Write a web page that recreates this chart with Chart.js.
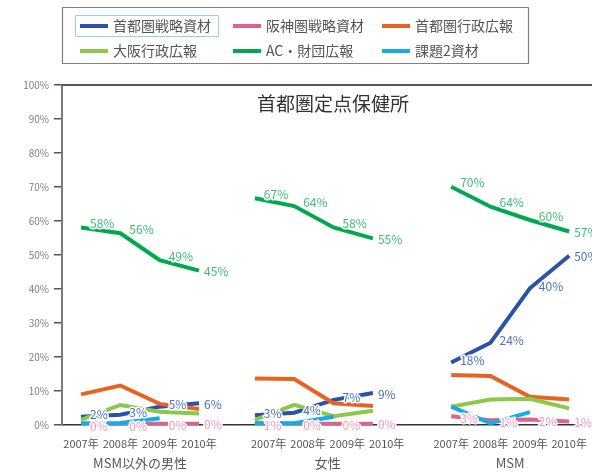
<!DOCTYPE html>
<html>
<head>
<meta charset="utf-8">
<script src="https://cdn.jsdelivr.net/npm/chart.js@4.4.1/dist/chart.umd.min.js"></script>
<style>
html,body{margin:0;padding:0;background:#fff;}
#wrap{width:592px;height:473px;position:relative;}
</style>
</head>
<body>
<div id="wrap"><canvas id="c"></canvas></div>
<script>
// ---- data ----
const years = ['2007年', '2008年', '2009年', '2010年'];
const groups = ['MSM以外の男性', '女性', 'MSM'];
const seriesNames = ['首都圏戦略資材', '阪神圏戦略資材', '首都圏行政広報', '大阪行政広報', 'AC・財団広報', '課題2資材'];
const chartTitle = '首都圏定点保健所';
const yTicks = [0, 10, 20, 30, 40, 50, 60, 70, 80, 90, 100];

// values per group: [MSM以外の男性, 女性, MSM], each 2007..2010 (%)
const shutoSenryaku   = [[2.4, 3.0, 5.4, 6.4], [2.9, 3.6, 7.4, 9.4], [18.4, 24.2, 40.2, 49.8]];
const hanshinSenryaku = [[0.3, 0.3, 0.4, 0.4], [0.6, 0.4, 0.4, 0.4], [2.6, 1.4, 1.6, 1.0]];
const shutoGyosei     = [[9.0, 11.6, 6.2, 4.7], [13.7, 13.5, 6.4, 5.6], [14.7, 14.4, 8.3, 7.5]];
const osakaGyosei     = [[1.5, 5.9, 3.9, 3.4], [1.5, 5.9, 2.6, 4.2], [5.4, 7.5, 7.7, 4.9]];
const acZaidan        = [[58.1, 56.4, 48.5, 45.4], [66.7, 64.4, 58.1, 54.9], [70.1, 64.2, 60.3, 56.9]];
const kadai2          = [[0.5, 0.6, 2.0, null], [0.5, 0.5, 2.4, null], [5.4, 0.5, 3.8, null]];

// ---- layout / style ----
const groupOffset = [0, 4.42, 9.41];
const labelShift = [0, 0.35, 0];
const FONT = '"Noto Sans CJK JP", "Noto Sans", sans-serif';
const styles = [
  {color: '#2a52a6', label: true, labelColor: '#4d6fc0', dy: -2},
  {color: '#e2618b', label: true, labelColor: '#f49ab8', dy: 2},
  {color: '#e8641e', label: false},
  {color: '#8cc84b', label: false},
  {color: '#00a84f', label: true, labelColor: '#3dbd74', dy: -4},
  {color: '#12ade8', label: false}
];
const allSeries = [shutoSenryaku, hanshinSenryaku, shutoGyosei, osakaGyosei, acZaidan, kadai2];

function buildPoints(series) {
  const pts = [];
  series.forEach((vals, g) => {
    vals.forEach((v, i) => {
      if (v !== null) pts.push({x: groupOffset[g] + i, y: v, yi: i});
    });
    pts.push({x: groupOffset[g] + 3.5, y: null});
  });
  return pts;
}

const datasets = allSeries.map((s, k) => ({
  label: seriesNames[k],
  data: buildPoints(s),
  borderColor: styles[k].color,
  backgroundColor: styles[k].color,
  borderWidth: 4,
  pointRadius: 0,
  pointHoverRadius: 0,
  tension: 0,
  spanGaps: false,
  order: -k,
  _style: styles[k]
}));

const decor = {
  id: 'decor',
  afterDraw(chart) {
    const ctx = chart.ctx;
    const ca = chart.chartArea;
    const xs = chart.scales.x;
    ctx.save();
    // top border at 100%
    ctx.strokeStyle = '#5a5a5a';
    ctx.lineWidth = 2;
    ctx.beginPath();
    ctx.moveTo(ca.left, ca.top);
    ctx.lineTo(ca.right, ca.top);
    ctx.stroke();

    // title
    ctx.fillStyle = '#333';
    ctx.font = '19px ' + FONT;
    ctx.textAlign = 'center';
    ctx.textBaseline = 'middle';
    ctx.fillText(chartTitle, 333, 104);

    // data labels
    ctx.font = '12px ' + FONT;
    ctx.textAlign = 'left';
    ctx.textBaseline = 'middle';
    ctx.lineJoin = 'round';
    chart.data.datasets.forEach((ds, di) => {
      const st = ds._style;
      if (!st.label) return;
      const meta = chart.getDatasetMeta(di);
      meta.data.forEach((el, j) => {
        const raw = ds.data[j];
        if (raw.y === null) return;
        const last = raw.yi === 3;
        const txt = Math.round(raw.y) + '%';
        const px = el.x + (last ? 5 : 9);
        const py = el.y + (last ? 1 : st.dy);
        ctx.strokeStyle = '#fff';
        ctx.lineWidth = 3;
        ctx.strokeText(txt, px, py);
        ctx.fillStyle = st.labelColor;
        ctx.fillText(txt, px, py);
      });
    });

    // x labels
    ctx.fillStyle = '#555';
    ctx.font = '11px ' + FONT;
    ctx.textAlign = 'center';
    groups.forEach((gname, g) => {
      years.forEach((y, i) => {
        ctx.fillText(y, xs.getPixelForValue(groupOffset[g] + labelShift[g] + i), 444);
      });
      ctx.font = '13px ' + FONT;
      ctx.fillText(gname, xs.getPixelForValue(groupOffset[g] + labelShift[g] + 1.5), 463);
      ctx.font = '11px ' + FONT;
    });

    // legend
    ctx.strokeStyle = '#808080';
    ctx.lineWidth = 1.2;
    ctx.strokeRect(62.5, 7.5, 466, 56);
    ctx.strokeStyle = '#8fd3f0';
    ctx.lineWidth = 1;
    ctx.strokeRect(75.5, 15.5, 143, 21);
    const colX = [80, 233, 382];
    const rowY = [26, 51];
    ctx.font = '14px ' + FONT;
    ctx.textAlign = 'left';
    chart.data.datasets.forEach((ds, k) => {
      const cx = colX[k % 3], cy = rowY[Math.floor(k / 3)];
      ctx.strokeStyle = ds.borderColor;
      ctx.lineWidth = 4;
      ctx.beginPath();
      ctx.moveTo(cx, cy);
      ctx.lineTo(cx + 28, cy);
      ctx.stroke();
      ctx.fillStyle = '#555';
      ctx.fillText(ds.label, cx + 33, cy);
    });
    ctx.restore();
  }
};

new Chart(document.getElementById('c'), {
  type: 'line',
  data: {datasets},
  options: {
    responsive: true,
    maintainAspectRatio: false,
    animation: false,
    events: [],
    layout: {padding: {top: 85, left: 0, right: 0, bottom: 0}},
    plugins: {legend: {display: false}, title: {display: false}, tooltip: {enabled: false}},
    scales: {
      x: {
        type: 'linear',
        min: -0.483,
        max: 12.99,
        ticks: {display: false},
        grid: {display: false, drawTicks: false},
        border: {display: true, color: '#333', width: 1.5},
        afterFit(s) { s.height = 48; }
      },
      y: {
        min: 0,
        max: 100,
        afterBuildTicks(s) { s.ticks = yTicks.map(v => ({value: v})); },
        ticks: {
          callback: v => v + '%',
          color: '#808080',
          font: {family: FONT, size: 10},
          padding: 5
        },
        grid: {drawOnChartArea: false, drawTicks: true, tickLength: 8, color: '#555', lineWidth: 1.5},
        border: {display: true, color: '#7a7a7a', width: 2},
        afterFit(s) { s.width = 62; }
      }
    }
  },
  plugins: [decor]
});
</script>
</body>
</html>
